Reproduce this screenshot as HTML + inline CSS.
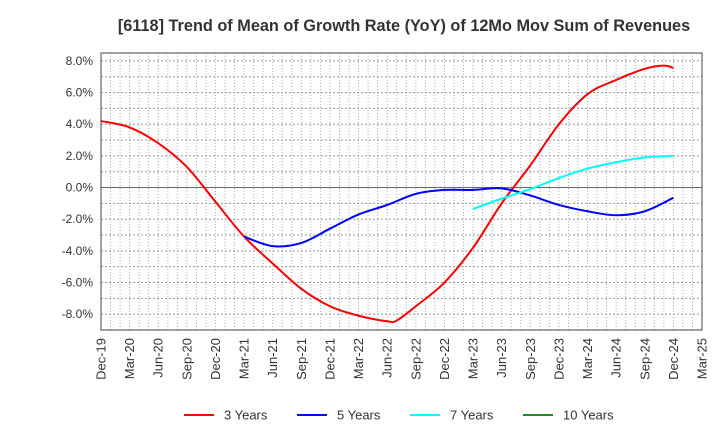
<!DOCTYPE html>
<html><head><meta charset="utf-8"><style>
body{margin:0;background:#fff;font-family:"Liberation Sans",sans-serif}
</style></head><body>
<svg id="c" width="720" height="440" xmlns="http://www.w3.org/2000/svg">
<text x="404" y="31" text-anchor="middle" font-size="16.3" font-weight="bold" fill="#333">[6118]  Trend of Mean of Growth Rate (YoY) of 12Mo Mov Sum of Revenues</text>
<g id="grid"></g><g id="axes"></g><g id="series"></g><g id="legend"></g>
</svg>
<script>
const xLabels=["Dec-19","Mar-20","Jun-20","Sep-20","Dec-20","Mar-21","Jun-21","Sep-21","Dec-21","Mar-22","Jun-22","Sep-22","Dec-22","Mar-23","Jun-23","Sep-23","Dec-23","Mar-24","Jun-24","Sep-24","Dec-24","Mar-25"];
const yTicks=[-8,-6,-4,-2,0,2,4,6,8];
const m3=[0,3,6,9,12,15,18,21,24,27,30,31,33,36,39,42,45,48,51,54,57,59,60];
const v3=[4.2,3.8,2.8,1.3,-0.9,-3.1,-4.8,-6.4,-7.5,-8.1,-8.45,-8.4,-7.5,-6.0,-3.8,-1.0,1.4,4.0,5.9,6.8,7.5,7.7,7.55];
const m5=[15,18,21,24,27,30,33,36,39,42,45,48,51,54,57,60];
const v5=[-3.1,-3.7,-3.5,-2.6,-1.7,-1.1,-0.4,-0.15,-0.15,-0.05,-0.5,-1.1,-1.5,-1.75,-1.5,-0.65];
const m7=[39,42,45,48,51,54,57,60];
const v7=[-1.35,-0.7,-0.1,0.6,1.2,1.6,1.9,2.0];
const L=101,R=702,T=53,B=330,yMin=-9,yMax=8.5,months=63;
const X=m=>L+(R-L)*m/months, Y=v=>B-(v-yMin)/(yMax-yMin)*(B-T);
const NS="http://www.w3.org/2000/svg";
function mk(p,t,a){const e=document.createElementNS(NS,t);for(const k in a)e.setAttribute(k,a[k]);p.appendChild(e);return e;}
const grid=document.getElementById('grid'),axes=document.getElementById('axes'),ser=document.getElementById('series'),leg=document.getElementById('legend');
for(let m=1;m<months;m++){const l=mk(grid,'line',{x1:X(m),x2:X(m),y1:T,y2:B,stroke:'#aaa','stroke-dasharray':'1,2','stroke-width':1});
}
for(let v=-9;v<=8;v++){if(v===0)continue;const l=mk(grid,'line',{x1:L,x2:R,y1:Y(v),y2:Y(v),stroke:'#999','stroke-dasharray':'2,2','stroke-width':1});
}
const z=mk(grid,'line',{x1:L,x2:R,y1:Y(0),y2:Y(0),stroke:'#666','stroke-width':1});

const fr=mk(axes,'rect',{x:L,y:T,width:R-L,height:B-T,fill:'none',stroke:'#444','stroke-width':1});

yTicks.forEach(v=>{const t=mk(axes,'text',{x:L-8,y:Y(v)+4,'text-anchor':'end','font-size':12,fill:'#333'});t.textContent=v.toFixed(1)+'%';
});
xLabels.forEach((s,i)=>{const x=X(i*3)+4.5;const t=mk(axes,'text',{x:x,y:B+8,'text-anchor':'end','font-size':13,fill:'#333',transform:`rotate(-90 ${x} ${B+8})`});t.textContent=s;
});
function path(ms,vs){const p=ms.map((m,i)=>[X(m),Y(vs[i])]);let d=`M${p[0][0]},${p[0][1]}`;
for(let i=0;i<p.length-1;i++){const p0=p[i-1]||p[i],p1=p[i],p2=p[i+1],p3=p[i+2]||p2;
d+=`C${p1[0]+(p2[0]-p0[0])/6},${p1[1]+(p2[1]-p0[1])/6} ${p2[0]-(p3[0]-p1[0])/6},${p2[1]-(p3[1]-p1[1])/6} ${p2[0]},${p2[1]}`;}return d;}
[[m3,v3,'#f00','series-3-years'],[m5,v5,'#00f','series-5-years'],[m7,v7,'#0ff','series-7-years']].forEach(([m,v,c,n])=>{
const e=mk(ser,'path',{d:path(m,v),fill:'none',stroke:c,'stroke-width':2});});
[['3 Years','#f00',184],['5 Years','#00f',297],['7 Years','#0ff',410],['10 Years','#228b22',523]].forEach(([s,c,x])=>{
const g=mk(leg,'g',{});
mk(g,'line',{x1:x,x2:x+30,y1:415,y2:415,stroke:c,'stroke-width':2});
const t=mk(g,'text',{x:x+40,y:419.5,'font-size':13,fill:'#333'});t.textContent=s;});
</script>
</body></html>
